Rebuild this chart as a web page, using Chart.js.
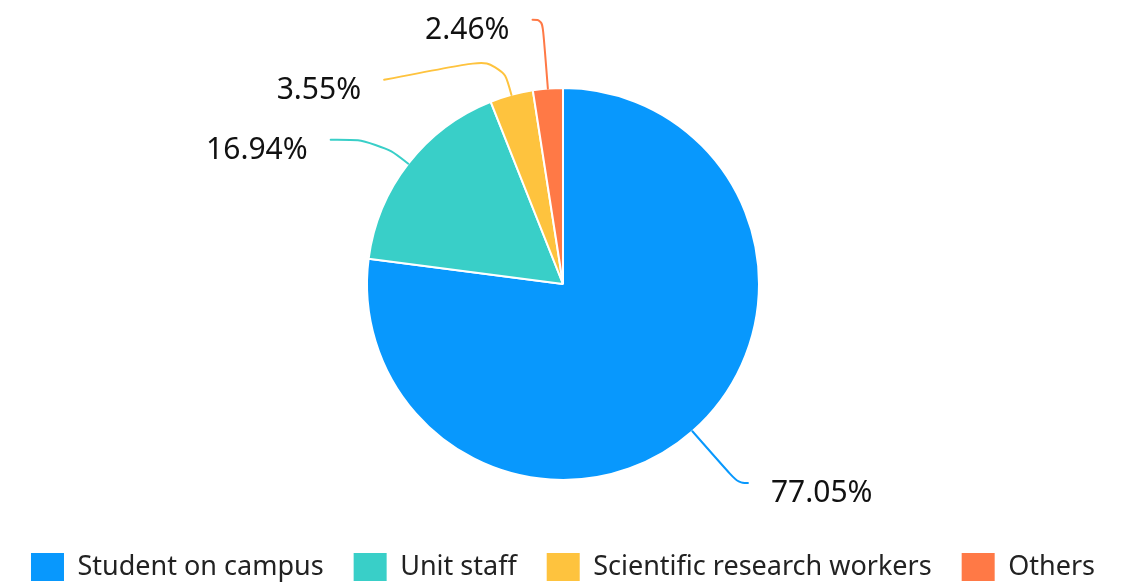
<!DOCTYPE html>
<html>
<head>
<meta charset="utf-8">
<script src="https://cdn.jsdelivr.net/npm/chart.js@4/dist/chart.umd.min.js"></script>
<style>
  html, body { margin: 0; padding: 0; background: #ffffff; }
  #c { display: block; }
</style>
</head>
<body>
<canvas id="c" width="1133" height="586"></canvas>
<script>
// ---- data ----
const categories = ["Student on campus", "Unit staff", "Scientific research workers", "Others"];
const shares = [77.05, 16.94, 3.55, 2.46];
const percentLabels = shares.map(v => v.toFixed(2) + "%");
const sliceColors = ["#0898fd", "#39cfc8", "#fec33e", "#ff7946"];

// ---- label-line layout parameters ----
const LINE_LEN1 = 69;   // radial length of label line
const LINE_LEN2 = 10;   // horizontal part
const TEXT_GAP = 23;    // gap between line end and text
const LABEL_ROW = 60;   // minimum vertical distance between labels
const SMOOTH = 0.45;

function smoothPath(ctx, p0, p1, p2, s) {
  const l1 = Math.hypot(p0[0] - p1[0], p0[1] - p1[1]);
  const l2 = Math.hypot(p2[0] - p1[0], p2[1] - p1[1]);
  ctx.moveTo(p0[0], p0[1]);
  if (l1 < 1e-3 || l2 < 1e-3) { ctx.lineTo(p1[0], p1[1]); ctx.lineTo(p2[0], p2[1]); return; }
  const m = Math.min(l1, l2) * s;
  const m0 = [p1[0] + (p0[0] - p1[0]) * m / l1, p1[1] + (p0[1] - p1[1]) * m / l1];
  const m2 = [p1[0] + (p2[0] - p1[0]) * m / l2, p1[1] + (p2[1] - p1[1]) * m / l2];
  const mid = [(m0[0] + m2[0]) / 2, (m0[1] + m2[1]) / 2];
  ctx.bezierCurveTo(m0[0], m0[1], m0[0], m0[1], mid[0], mid[1]);
  ctx.bezierCurveTo(m2[0], m2[1], m2[0], m2[1], p2[0], p2[1]);
}

const pieLabels = {
  id: "pieLabels",
  afterDatasetsDraw(chart) {
    const meta = chart.getDatasetMeta(0);
    const ctx = chart.ctx;
    const items = meta.data.map((arc, i) => {
      const p = arc.getProps(["x", "y", "startAngle", "endAngle", "outerRadius"], true);
      const mid = (p.startAngle + p.endAngle) / 2;
      const ux = Math.cos(mid), uy = Math.sin(mid);
      const rA = p.outerRadius + LINE_LEN1;
      return {
        i, cx: p.x, cy: p.y, r: p.outerRadius, ux, uy, rA,
        dir: ux < 0 ? -1 : 1,
        ax: p.x + p.outerRadius * ux, ay: p.y + p.outerRadius * uy,
        bx: p.x + rA * ux, by: p.y + rA * uy,
        y: p.y + rA * uy, shifted: false
      };
    });

    [-1, 1].forEach(side => {
      const list = items.filter(it => it.dir === side).sort((a, b) => a.y - b.y);
      for (let k = 1; k < list.length; k++) {
        if (list[k].y - list[k - 1].y < LABEL_ROW) {
          list[k].y = list[k - 1].y + LABEL_ROW;
          list[k].shifted = true;
        }
      }
      const anyShift = list.some(it => it.shifted);
      ["top", "bottom"].forEach(half => {
        const semi = list.filter(it => half === "top" ? it.y <= it.cy : it.y > it.cy);
        if (!semi.length) return;
        const ref = semi.reduce((a, b) => Math.abs(b.y - b.cy) > Math.abs(a.y - a.cy) ? b : a);
        const rdy = Math.abs(ref.y - ref.cy), rdx = Math.abs(ref.bx - ref.cx);
        const rB = rdx < ref.rA ? rdy / Math.sqrt(1 - rdx * rdx / (ref.rA * ref.rA)) : ref.rA;
        semi.forEach(it => {
          const dyv = Math.abs(it.y - it.cy);
          const dxv = (anyShift && rB > 0)
            ? Math.sqrt(Math.max(0, 1 - dyv * dyv / (rB * rB))) * it.rA
            : Math.abs(it.bx - it.cx);
          it.ex = it.cx + side * (dxv + LINE_LEN2);
        });
      });
    });

    ctx.save();
    items.forEach(it => {
      const color = sliceColors[it.i];
      let elbow;
      if (it.shifted) {
        const rr = it.r + LINE_LEN1 * 0.57;
        elbow = [it.cx + rr * it.ux, it.cy + rr * it.uy];
      } else {
        elbow = [it.bx, it.y];
      }
      ctx.beginPath();
      smoothPath(ctx, [it.ax, it.ay], elbow, [it.ex, it.y], SMOOTH);
      ctx.strokeStyle = color;
      ctx.lineWidth = 2;
      ctx.lineCap = "round";
      ctx.stroke();

      ctx.font = '30px "Noto Sans", "Open Sans", sans-serif';
      ctx.fillStyle = "#111111";
      ctx.textAlign = it.dir < 0 ? "right" : "left";
      ctx.textBaseline = "alphabetic";
      ctx.fillText(percentLabels[it.i], it.ex + it.dir * TEXT_GAP, it.y + 19);
    });
    ctx.restore();
  }
};

new Chart(document.getElementById("c"), {
  type: "pie",
  data: {
    labels: categories,
    datasets: [{
      data: shares,
      backgroundColor: sliceColors,
      borderColor: "#ffffff",
      borderWidth: 2,
      radius: 196
    }]
  },
  options: {
    responsive: false,
    animation: false,
    layout: { padding: { top: 45, right: 7, left: 0, bottom: 0 } },
    plugins: {
      tooltip: { enabled: false },
      legend: {
        position: "bottom",
        maxHeight: 63,
        labels: {
          font: { family: "Noto Sans", size: 27 },
          color: "#222222",
          boxWidth: 33,
          boxHeight: 28,
          padding: 30,
          generateLabels(chart) {
            const items = Chart.overrides.pie.plugins.legend.labels.generateLabels(chart);
            items.forEach(it => { it.lineWidth = 0; it.strokeStyle = "rgba(0,0,0,0)"; });
            return items;
          }
        }
      }
    }
  },
  plugins: [pieLabels]
});
</script>
</body>
</html>
